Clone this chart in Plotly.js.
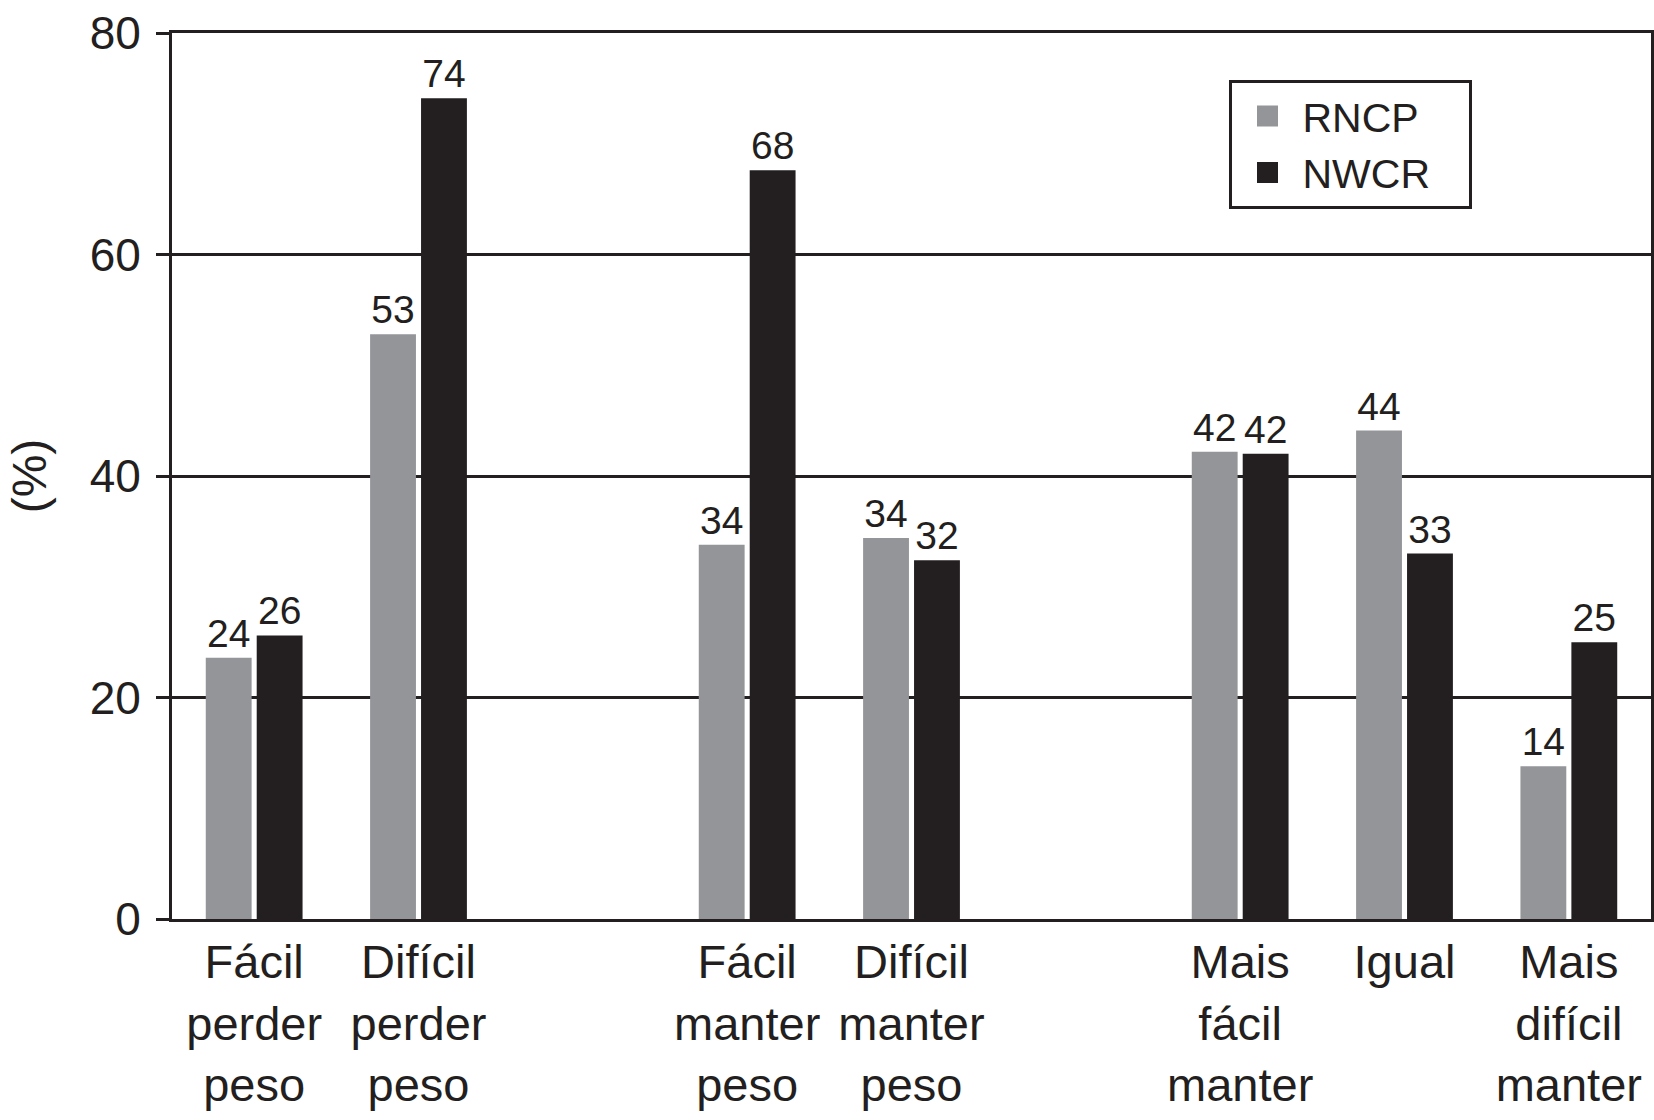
<!DOCTYPE html>
<html>
<head>
<meta charset="utf-8">
<script src="https://cdn.plot.ly/plotly-3.0.1.min.js"></script>
<style>html,body{margin:0;padding:0;background:#fff;}</style>
</head>
<body>
<div id="chart" style="width:1654px;height:1120px;"></div>
<script>
const categories = [
  'Fácil<br>perder<br>peso',
  'Difícil<br>perder<br>peso',
  ' ',
  'Fácil<br>manter<br>peso',
  'Difícil<br>manter<br>peso',
  '  ',
  'Mais<br>fácil<br>manter',
  'Igual',
  'Mais<br>difícil<br>manter'
];
const seriesNames = ['RNCP', 'NWCR'];
const rncpValues = [23.6, 52.8, null, 33.8, 34.4, null, 42.2, 44.1, 13.8];
const nwcrValues = [25.6, 74.1, null, 67.6, 32.4, null, 42.0, 33.0, 25.0];
const yTicks = [0, 20, 40, 60, 80];

const fontFam = '"Liberation Sans", Arial, Helvetica, sans-serif';
const grey = '#939598';
const black = '#231f20';
const pad = '\u00a0\u00a0\u00a0';

const traces = [
  {
    type: 'bar', name: seriesNames[0], x: categories, y: rncpValues,
    marker: {color: grey}, showlegend: false,
    texttemplate: '%{y:.0f}', textposition: 'outside',
    textfont: {size: 39, color: black, family: fontFam},
    cliponaxis: false, hoverinfo: 'skip'
  },
  {
    type: 'bar', name: seriesNames[1], x: categories, y: nwcrValues,
    marker: {color: black}, showlegend: false,
    texttemplate: '%{y:.0f}', textposition: 'outside',
    textfont: {size: 39, color: black, family: fontFam},
    cliponaxis: false, hoverinfo: 'skip'
  },
  {
    type: 'scatter', mode: 'markers', name: seriesNames[0] + pad, x: [null], y: [null],
    marker: {symbol: 'square', size: 16, color: grey, line: {color: grey, width: 5}}, showlegend: true
  },
  {
    type: 'scatter', mode: 'markers', name: seriesNames[1] + pad, x: [null], y: [null],
    marker: {symbol: 'square', size: 16, color: black, line: {color: black, width: 5}}, showlegend: true
  }
];

const layout = {
  width: 1654, height: 1120,
  margin: {l: 172, r: 3, t: 33, b: 201},
  paper_bgcolor: '#fff', plot_bgcolor: '#fff',
  font: {family: fontFam, color: black},
  bargap: 0.38, bargroupgap: 0.1, barmode: 'group',
  xaxis: {
    type: 'category', categoryorder: 'array', categoryarray: categories,
    range: [-0.5, 8.5],
    showline: true, linecolor: black, linewidth: 3, mirror: true,
    ticks: '', showgrid: false, zeroline: false,
    tickfont: {size: 47, color: black, family: fontFam},
    automargin: false
  },
  yaxis: {
    range: [0, 80], tickvals: yTicks, ticktext: yTicks.map(String),
    ticks: 'outside', ticklen: 13, tickwidth: 3, tickcolor: black,
    showline: true, linecolor: black, linewidth: 3, mirror: true,
    showgrid: true, gridcolor: black, gridwidth: 3, zeroline: false,
    tickfont: {size: 46, color: black, family: fontFam},
    ticklabelstandoff: 6,
    title: {text: '(%)', font: {size: 48, color: black, family: fontFam}, standoff: 28},
    automargin: false
  },
  legend: {
    x: 0.715, y: 0.947, xanchor: 'left', yanchor: 'top',
    bordercolor: black, borderwidth: 3, bgcolor: '#fff',
    font: {size: 41, color: black, family: fontFam},
    itemwidth: 60, itemsizing: 'trace',
    tracegroupgap: 0
  }
};

Plotly.newPlot('chart', traces, layout, {staticPlot: true, displayModeBar: false});
</script>
</body>
</html>
